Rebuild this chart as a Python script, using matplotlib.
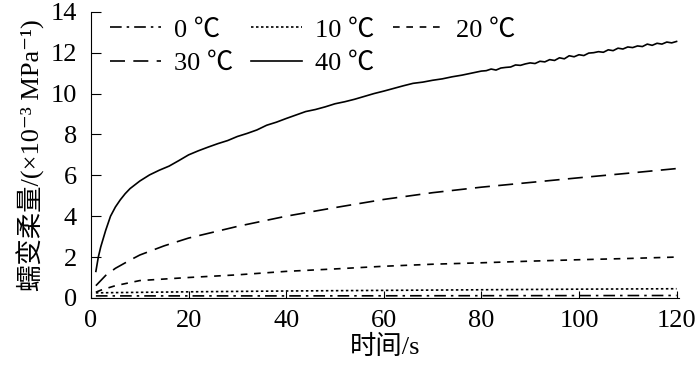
import matplotlib.pyplot as plt

plt.rcParams['font.family'] = ['Liberation Serif', 'Noto Sans CJK SC', 'DejaVu Sans']

# 40 C creep compliance
t40 = [1, 1.5, 2, 3, 4, 5, 6, 7, 8, 10, 12, 14, 16, 18, 20, 22, 24, 26, 28, 30,
       32, 34, 36, 38, 40, 42, 44, 46, 48, 50, 52, 54, 56, 58, 60, 62, 64, 66, 68,
       70, 72, 74, 76, 78, 80, 81, 82, 83, 84, 85, 86, 87, 88, 89, 90, 91, 92, 93,
       94, 95, 96, 97, 98, 99, 100, 101, 102, 103, 104, 105, 106, 107, 108, 109,
       110, 111, 112, 113, 114, 115, 116, 117, 118, 119, 120]
j40 = [1.3, 2.0, 2.5, 3.3, 4.0, 4.45, 4.8, 5.1, 5.35, 5.72, 6.02, 6.25, 6.45,
       6.72, 7.0, 7.2, 7.38, 7.55, 7.7, 7.9, 8.05, 8.22, 8.45, 8.6, 8.78, 8.95,
       9.12, 9.22, 9.35, 9.5, 9.6, 9.72, 9.86, 10.0, 10.12, 10.25, 10.38, 10.5,
       10.56, 10.65, 10.72, 10.82, 10.9, 11.0, 11.1, 11.12, 11.2, 11.15, 11.25,
       11.28, 11.3, 11.4, 11.38, 11.45, 11.5, 11.47, 11.58, 11.55, 11.66, 11.62,
       11.75, 11.7, 11.85, 11.8, 11.9, 11.86, 11.98, 12.0, 12.05, 12.02, 12.14,
       12.1, 12.22, 12.18, 12.28, 12.25, 12.33, 12.3, 12.42, 12.36, 12.46, 12.42,
       12.52, 12.48, 12.55]

t30 = [1, 2, 3, 5, 8, 10, 15, 20, 30, 40, 50, 60, 70, 80, 90, 100, 110, 120]
j30 = [0.6, 0.85, 1.1, 1.45, 1.85, 2.1, 2.55, 2.93, 3.5, 4.0, 4.42, 4.82, 5.15,
       5.42, 5.65, 5.88, 6.1, 6.33]

t20 = [1, 2, 5, 10, 20, 30, 40, 50, 60, 70, 80, 90, 100, 110, 120]
j20 = [0.28, 0.38, 0.6, 0.85, 1.0, 1.13, 1.3, 1.42, 1.55, 1.65, 1.72, 1.8, 1.87,
       1.93, 2.0]

t10 = [1, 20, 40, 60, 80, 100, 120]
j10 = [0.25, 0.3, 0.34, 0.37, 0.4, 0.43, 0.45]

t0 = [1, 40, 80, 120]
j0 = [0.1, 0.1, 0.11, 0.12]

fig = plt.figure(figsize=(7, 3.81), dpi=100)
ax = fig.add_axes([0.13, 0.218, 0.84, 0.751])

lw = 1.2
h0, = ax.plot(t0, j0, color='black', lw=lw, dashes=(7, 3, 1.5, 3))
h10, = ax.plot(t10, j10, color='black', lw=lw, dashes=(1.5, 1.5))
h20, = ax.plot(t20, j20, color='black', lw=lw, dashes=(4, 4))
h30, = ax.plot(t30, j30, color='black', lw=lw, dashes=(9, 5))
h40, = ax.plot(t40, j40, color='black', lw=lw)

ax.set_xlim(0, 120.5)
ax.set_ylim(0, 14)
ax.set_xticks([0, 20, 40, 60, 80, 100, 120])
ax.set_yticks([0, 2, 4, 6, 8, 10, 12, 14])
ax.spines['top'].set_visible(False)
ax.spines['right'].set_visible(False)
ax.tick_params(axis='x', direction='in', length=5, labelsize=19, pad=9)
ax.tick_params(axis='y', direction='in', length=7, labelsize=19, pad=10)

ax.set_xlabel('时间/s', fontsize=19, labelpad=2)
ax.set_ylabel('蠕变柔量/(×10⁻³ MPa⁻¹)', fontsize=19, labelpad=4)

ax.legend([h0, h30, h10, h40, h20], ['0 ℃', '30 ℃', '10 ℃', '40 ℃', '20 ℃'],
          ncol=3, loc='upper left', frameon=False, fontsize=19,
          handlelength=1.9, handletextpad=0.5, columnspacing=0.7,
          labelspacing=0.38, borderaxespad=0.0, bbox_to_anchor=(0.015, 1.015))

fig.savefig('out.png', dpi=100)
